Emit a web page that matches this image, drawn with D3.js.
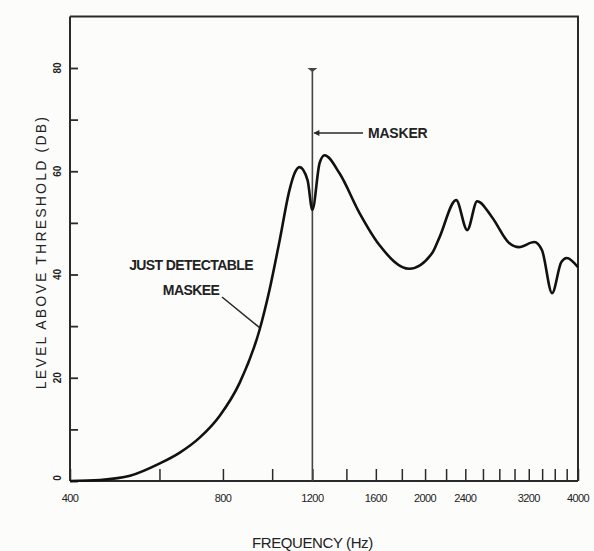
<!DOCTYPE html>
<html>
<head>
<meta charset="utf-8">
<script src="https://cdn.jsdelivr.net/npm/d3@7"></script>
<style>
  body { margin: 0; background: #fcfcfb; }
  svg { display: block; }
  text { font-family: "Liberation Sans Narrow", "Liberation Sans", Arial, sans-serif; fill: #222; }
  .axis path, .axis line { stroke: #2a2a2a; }
</style>
</head>
<body>
<svg id="root"></svg>
<script>
// curve: frequency (Hz) vs level above threshold (dB)
const freqs = [400, 458, 525, 601, 658, 720, 788, 863, 944, 988, 1035, 1082, 1107, 1132, 1174, 1200,
  1240, 1268, 1357, 1486, 1626, 1862, 2067, 2133, 2303, 2421, 2533, 2709, 2928, 3061, 3281, 3398,
  3557, 3708, 3800, 4000];
const levels = [0, 0.2, 1, 3.4, 5.5, 8.4, 12.6, 19, 29.2, 37, 46.7, 56.4, 59.6, 60.8, 58.3, 52.5,
  61.6, 63.1, 59.6, 51.9, 45.7, 41.1, 44.2, 47.1, 54.4, 48.6, 54.2, 51.1, 46.1, 45.3, 46.3, 44.7,
  36.4, 42.4, 43.2, 41.4];

const maskerFreq = 1200;
const maskerLevel = 80;

const xTicks = [400, 600, 800, 1000, 1200, 1400, 1600, 1800, 2000, 2200, 2400, 2600, 2800, 3000,
  3200, 3400, 3600, 3800, 4000];
const xLabels = [400, 800, 1200, 1600, 2000, 2400, 3200, 4000];
const yTicks = [0, 10, 20, 30, 40, 50, 60, 70, 80];
const yLabels = [0, 20, 40, 60, 80];

const width = 594, height = 551;
const ink = '#2a2a2a';

const x = d3.scaleLog().domain([400, 4000]).range([70, 578]);
const y = d3.scaleLinear().domain([0, 80]).range([481, 68]);

const svg = d3.select('#root').attr('width', width).attr('height', height);

// frame top and right
svg.append('path')
  .attr('d', `M${x(400)},${y(90)}H${x(4000)}V${y(0)}`)
  .attr('fill', 'none').attr('stroke', ink).attr('stroke-width', 2);

// y axis, ticks inward
svg.append('g')
  .attr('class', 'axis')
  .attr('transform', `translate(${x(400)},0)`)
  .call(d3.axisLeft(y).tickValues(yTicks).tickSize(-8).tickFormat(''))
  .call(g => g.select('.domain').attr('d', `M0,${y(90)}V${y(0)}`).attr('stroke-width', 2))
  .call(g => g.selectAll('.tick line').attr('stroke-width', 1.8));

svg.selectAll('.ylab')
  .data(yLabels)
  .enter()
  .append('text')
    .attr('class', 'ylab')
    .attr('transform', d => `translate(${x(400) - 9},${y(d) + (d === 0 ? -3 : 0)}) rotate(-90)`)
    .attr('text-anchor', 'middle')
    .attr('font-size', 10)
    .attr('font-weight', 'bold')
    .text(d => d);

// x axis, ticks inward
svg.append('g')
  .attr('class', 'axis')
  .attr('transform', `translate(0,${y(0)})`)
  .call(d3.axisBottom(x).tickValues(xTicks).tickSize(-12).tickFormat(''))
  .call(g => g.select('.domain').attr('d', `M${x(400)},0H${x(4000)}`).attr('stroke-width', 2))
  .call(g => g.selectAll('.tick line').attr('stroke-width', 1.5));

svg.selectAll('.xlab')
  .data(xLabels)
  .enter()
  .append('text')
    .attr('class', 'xlab')
    .attr('x', d => x(d))
    .attr('y', y(0) + 21)
    .attr('text-anchor', 'middle')
    .attr('font-size', 11)
    .attr('letter-spacing', -0.6)
    .text(d => d);

// axis titles
svg.append('text')
  .attr('x', x(1200))
  .attr('y', 548)
  .attr('text-anchor', 'middle')
  .attr('font-size', 15)
  .attr('letter-spacing', -0.4)
  .text('FREQUENCY (Hz)');

svg.append('text')
  .attr('transform', `translate(46,252) rotate(-90)`)
  .attr('text-anchor', 'middle')
  .attr('font-family', '"Liberation Sans", Arial, sans-serif')
  .attr('font-size', 14)
  .attr('letter-spacing', 2.2)
  .text('LEVEL ABOVE THRESHOLD (DB)');

// masker line
svg.append('line')
  .attr('x1', x(maskerFreq)).attr('x2', x(maskerFreq))
  .attr('y1', y(0)).attr('y2', y(maskerLevel))
  .attr('stroke', '#444').attr('stroke-width', 1.6);
svg.append('path')
  .attr('d', `M${x(maskerFreq) - 5},${y(maskerLevel)}h10l-5,4z`)
  .attr('fill', '#444');

// masker label and arrow
const arrowY = 133;
svg.append('line')
  .attr('x1', x(maskerFreq) + 2).attr('x2', 363)
  .attr('y1', arrowY).attr('y2', arrowY)
  .attr('stroke', ink).attr('stroke-width', 1.6);
svg.append('path')
  .attr('d', `M${x(maskerFreq) + 1},${arrowY}l6,-3v6z`)
  .attr('fill', ink);
svg.append('text')
  .attr('x', 368).attr('y', arrowY + 5)
  .attr('font-size', 14).attr('font-weight', 'bold').attr('letter-spacing', -0.2)
  .text('MASKER');

// maskee label and leader
svg.append('text')
  .attr('x', 191).attr('y', 270)
  .attr('text-anchor', 'middle')
  .attr('font-size', 14).attr('font-weight', 'bold').attr('letter-spacing', -0.6)
  .text('JUST DETECTABLE');
svg.append('text')
  .attr('x', 191).attr('y', 295)
  .attr('text-anchor', 'middle')
  .attr('font-size', 14).attr('font-weight', 'bold').attr('letter-spacing', -0.6)
  .text('MASKEE');
svg.append('line')
  .attr('x1', 222).attr('y1', 297).attr('x2', 260).attr('y2', 328)
  .attr('stroke', ink).attr('stroke-width', 1.6);

// curve
const line = d3.line()
  .x((d, i) => x(freqs[i]))
  .y(d => y(d))
  .curve(d3.curveMonotoneX);

svg.append('path')
  .datum(levels)
  .attr('d', line)
  .attr('fill', 'none')
  .attr('stroke', '#111')
  .attr('stroke-width', 2.6)
  .attr('stroke-linejoin', 'round');
</script>
</body>
</html>
